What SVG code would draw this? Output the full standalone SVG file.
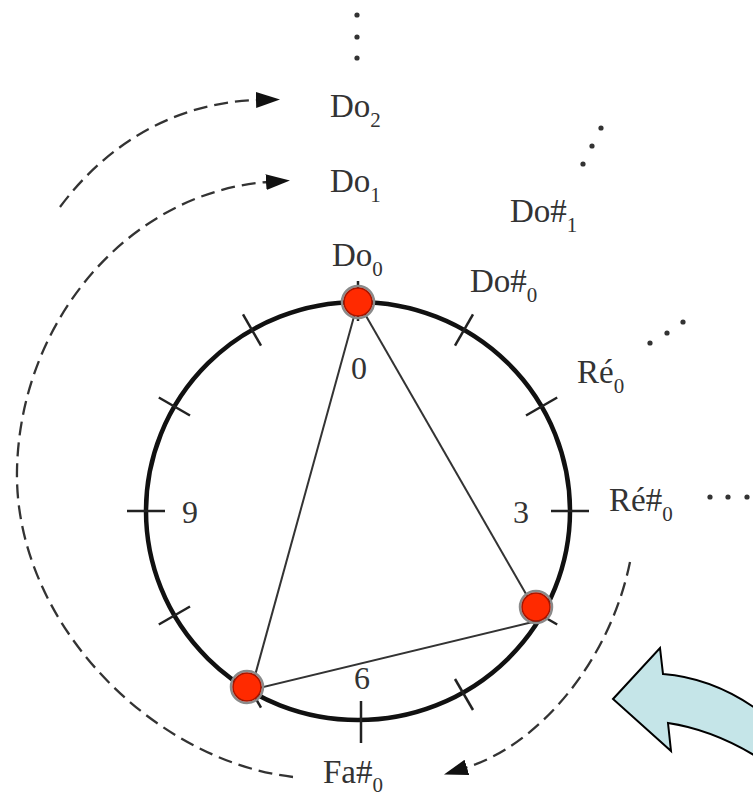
<svg xmlns="http://www.w3.org/2000/svg" width="753" height="798" viewBox="0 0 753 798">
<style>
.lbl{font-family:"Liberation Serif","Times New Roman",serif;font-size:33px;fill:#333}
.sub{font-size:21px}
.num{font-family:"Liberation Serif","Times New Roman",serif;font-size:32px;fill:#333;text-anchor:middle}
.tick{stroke:#222;stroke-width:2.5;fill:none}
.tri{stroke:#333;stroke-width:2;fill:none}
.dash{stroke:#333;stroke-width:2.3;fill:none;stroke-dasharray:14 7}
.dot{fill:#ff2a00;stroke:#a51500;stroke-width:1.5}
.halo{fill:none;stroke:#8a8a8a;stroke-width:2.5}
.ell{fill:#333}
</style>
<defs>
<marker id="ah" markerUnits="userSpaceOnUse" markerWidth="30" markerHeight="20" refX="2" refY="8" orient="auto">
<path d="M0,0 L24,8 L0,16 Z" fill="#111"/>
</marker>
</defs>
<rect width="753" height="798" fill="#fff"/>
<g id="connectors">
<path class="dash" d="M60,207 C110,140 180,102 258,100" marker-end="url(#ah)"/>
<path class="dash" d="M293,777 C150,760 14,620 17,470 C20,320 130,192 268,182" marker-end="url(#ah)"/>
<path class="dash" d="M630,562 C610,660 540,745 465,768" marker-end="url(#ah)"/>
</g>
<g id="ring">
<ellipse cx="358" cy="511" rx="212" ry="209" fill="none" stroke="#111" stroke-width="4.5"/>
</g>
<g id="ticks">
<line class="tick" x1="358" y1="281" x2="358" y2="321"/>
<line class="tick" x1="455" y1="345.6" x2="473" y2="314.4"/>
<line class="tick" x1="526" y1="415.5" x2="557.2" y2="397.5"/>
<line class="tick" x1="551" y1="511" x2="589" y2="511"/>
<line class="tick" x1="526" y1="606.5" x2="557.2" y2="624.5"/>
<line class="tick" x1="455" y1="679" x2="473" y2="710"/>
<line class="tick" x1="361" y1="701" x2="361" y2="743"/>
<line class="tick" x1="243" y1="676.4" x2="261" y2="707.6"/>
<line class="tick" x1="158.8" y1="624.5" x2="190" y2="606.5"/>
<line class="tick" x1="127" y1="511" x2="165" y2="511"/>
<line class="tick" x1="158.8" y1="397.5" x2="190" y2="415.5"/>
<line class="tick" x1="243" y1="314.4" x2="261" y2="345.6"/>
</g>
<g id="triad">
<line class="tri" x1="358" y1="302" x2="541" y2="620"/>
<line class="tri" x1="541" y1="620" x2="251" y2="690"/>
<line class="tri" x1="251" y1="690" x2="358" y2="302"/>
</g>
<g id="node-0"><circle class="halo" cx="358" cy="302" r="16"/><circle class="dot" cx="358" cy="302" r="14"/></g>
<g id="node-4"><circle class="halo" cx="536" cy="607" r="16"/><circle class="dot" cx="536" cy="607" r="14"/></g>
<g id="node-7"><circle class="halo" cx="247" cy="687" r="16"/><circle class="dot" cx="247" cy="687" r="14"/></g>
<g id="numbers">
<text class="num" x="359" y="379">0</text>
<text class="num" x="521" y="523">3</text>
<text class="num" x="362" y="689">6</text>
<text class="num" x="190" y="523">9</text>
</g>
<g id="label-do2"><text class="lbl" x="330" y="117">Do<tspan class="sub" dy="10">2</tspan></text></g>
<g id="label-do1"><text class="lbl" x="330" y="192">Do<tspan class="sub" dy="10">1</tspan></text></g>
<g id="label-dos1"><text class="lbl" x="510" y="222">Do#<tspan class="sub" dy="10">1</tspan></text></g>
<g id="label-do0"><text class="lbl" x="332" y="266">Do<tspan class="sub" dy="10">0</tspan></text></g>
<g id="label-dos0"><text class="lbl" x="470" y="292">Do#<tspan class="sub" dy="10">0</tspan></text></g>
<g id="label-re0"><text class="lbl" x="577" y="383">Ré<tspan class="sub" dy="10">0</tspan></text></g>
<g id="label-res0"><text class="lbl" x="609" y="511">Ré#<tspan class="sub" dy="10">0</tspan></text></g>
<g id="label-fas0"><text class="lbl" x="323" y="783">Fa#<tspan class="sub" dy="9">0</tspan></text></g>
<g id="ellipses">
<circle class="ell" cx="357" cy="15" r="2.6"/><circle class="ell" cx="357" cy="37" r="2.6"/><circle class="ell" cx="357" cy="58" r="2.6"/>
<circle class="ell" cx="601" cy="128" r="2.6"/><circle class="ell" cx="592" cy="146" r="2.6"/><circle class="ell" cx="583" cy="164" r="2.6"/>
<circle class="ell" cx="650" cy="343" r="2.6"/><circle class="ell" cx="667" cy="333" r="2.6"/><circle class="ell" cx="683" cy="322" r="2.6"/>
<circle class="ell" cx="710" cy="497" r="2.6"/><circle class="ell" cx="728" cy="497" r="2.6"/><circle class="ell" cx="747" cy="497" r="2.6"/>
</g>
<g id="block-arrow">
<path d="M613,699 L660,648 L663,674 Q715,678 762,713 L762,760 Q715,730 668,723 L671,751 Z" fill="#c5e5e8" stroke="#000" stroke-width="2" stroke-linejoin="miter"/>
</g>
</svg>
